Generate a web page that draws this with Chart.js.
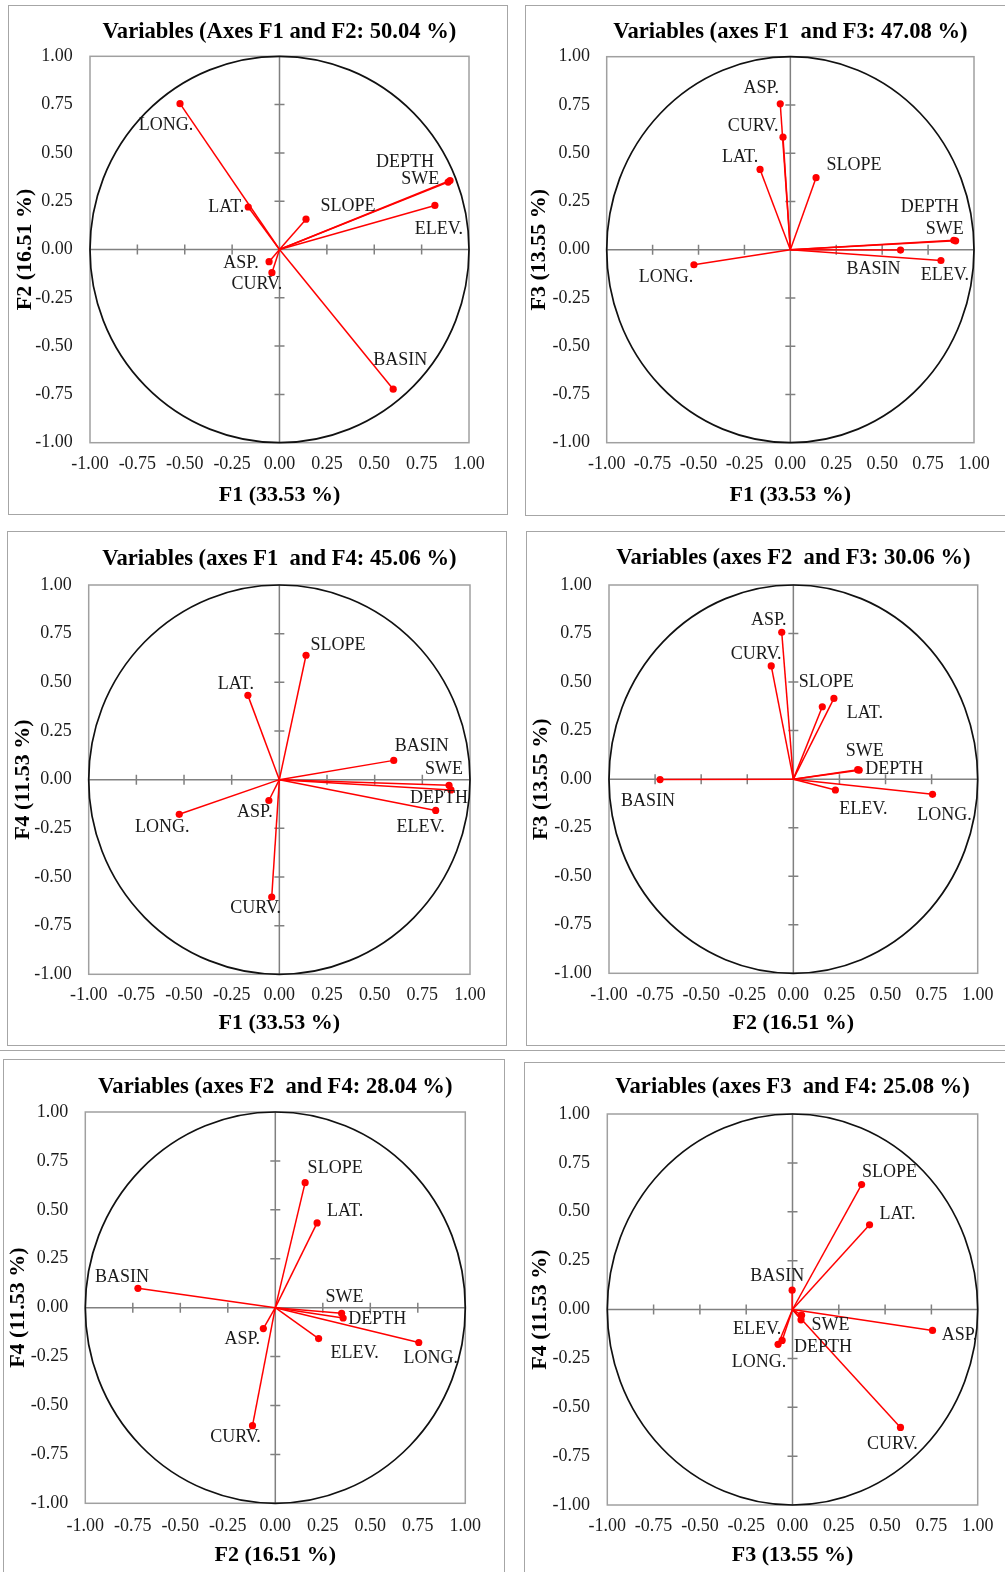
<!DOCTYPE html>
<html>
<head>
<meta charset="utf-8">
<title>Correlation circles F1–F4</title>
<script src="https://cdn.jsdelivr.net/npm/chart.js@4.4.1/dist/chart.umd.min.js"></script>
<style>
  html, body { margin: 0; padding: 0; background: #fff; }
  body { width: 1005px; height: 1572px; position: relative; overflow: hidden; }
  .panel { position: absolute; box-sizing: border-box; border: 1.5px solid #a6a6a6; }
  .rule { position: absolute; left: 0; width: 1005px; height: 0; border-top: 1.5px solid #a6a6a6; }
  canvas { position: absolute; }
</style>
</head>
<body>
<script>
// Variables and their loadings on the first four factors
const variables = ['LONG.', 'LAT.', 'ASP.', 'CURV.', 'SLOPE', 'DEPTH', 'SWE', 'ELEV.', 'BASIN'];
const loadF1 = [-0.525, -0.165, -0.055, -0.040, 0.140, 0.900, 0.890, 0.820, 0.600];
const loadF2 = [0.755, 0.220, -0.063, -0.120, 0.157, 0.357, 0.349, 0.228, -0.723];
const loadF3 = [-0.078, 0.416, 0.756, 0.583, 0.373, 0.046, 0.049, -0.056, -0.002];
const loadF4 = [-0.178, 0.433, -0.107, -0.603, 0.639, -0.053, -0.029, -0.158, 0.099];

// Factor names and the share of variance each one carries (%)
const factorNames = ['F1', 'F2', 'F3', 'F4'];
const explainedPct = [33.53, 16.51, 13.55, 11.53];

// Tick values shared by both axes of every circle
const tickValues = [-1, -0.75, -0.5, -0.25, 0, 0.25, 0.5, 0.75, 1];

const factorSeries = [loadF1, loadF2, loadF3, loadF4];

const SERIF = '"Liberation Serif", "Times New Roman", Times, serif';
const RED = '#ff0000';
const TITLE_SIZE = 22.6;
const AXIS_TITLE_SIZE = 22;
const TICK_SIZE = 18;
const LABEL_SIZE = 18;

// Page layout of the six panels: frame box, plot rectangle, text anchors
// and where each variable name sits relative to its arrow tip.
const panels = [
  { fx: 0, fy: 1, word: 'Axes', gap: ' ',
    box: [8, 5, 508, 515], plot: [90, 56.3, 469, 442.7],
    titleY: 32.3, xTickY: 464, xTitleY: 495, yTitleX: 25, yTickRight: 72.7,
    offsets: { 'LONG.': [-14, 22], 'LAT.': [-22, 0], 'ASP.': [-28, 2], 'CURV.': [-15, 12], 'SLOPE': [42, -13],
               'DEPTH': [-45, -18], 'SWE': [-28, -3], 'ELEV.': [4, 24], 'BASIN': [7, -29] } },
  { fx: 0, fy: 2, word: 'axes', gap: '  ',
    box: [525, 5, 1010, 516], plot: [606.7, 56.7, 974, 442.7],
    titleY: 32.3, xTickY: 464, xTitleY: 495, yTitleX: 539, yTickRight: 590,
    offsets: { 'LONG.': [-28, 13], 'LAT.': [-20, -12], 'ASP.': [-19, -16], 'CURV.': [-30, -11], 'SLOPE': [38, -12],
               'DEPTH': [-26, -34], 'SWE': [-9, -11], 'ELEV.': [4, 15], 'BASIN': [-27, 19] } },
  { fx: 0, fy: 3, word: 'axes', gap: '  ',
    box: [7, 531, 507, 1046], plot: [88.7, 585, 470, 974.3],
    titleY: 559.3, xTickY: 995, xTitleY: 1023, yTitleX: 23, yTickRight: 71.7,
    offsets: { 'LONG.': [-17, 13], 'LAT.': [-12, -11], 'ASP.': [-14, 12], 'CURV.': [-16, 11], 'SLOPE': [32, -10],
               'DEPTH': [-12, 8], 'SWE': [-5, -16], 'ELEV.': [-15, 17], 'BASIN': [28, -14] } },
  { fx: 1, fy: 2, word: 'axes', gap: '  ',
    box: [526, 531, 1010, 1046], plot: [609, 585, 977.7, 973.3],
    titleY: 558.3, xTickY: 995, xTitleY: 1023, yTitleX: 541.7, yTickRight: 591.7,
    offsets: { 'LONG.': [12, 21], 'LAT.': [31, 15], 'ASP.': [-13, -12], 'CURV.': [-15, -12], 'SLOPE': [4, -24],
               'DEPTH': [35, -1], 'SWE': [7, -18], 'ELEV.': [28, 19], 'BASIN': [-12, 22] } },
  { fx: 1, fy: 3, word: 'axes', gap: '  ',
    box: [3, 1059, 505, 1580], plot: [85.3, 1112, 465.3, 1503.3],
    titleY: 1087.3, xTickY: 1526, xTitleY: 1555, yTitleX: 18.3, yTickRight: 68.3,
    offsets: { 'LONG.': [12, 16], 'LAT.': [28, -12], 'ASP.': [-21, 11], 'CURV.': [-17, 12], 'SLOPE': [30, -14],
               'DEPTH': [34, 1], 'SWE': [3, -16], 'ELEV.': [36, 15], 'BASIN': [-16, -11] } },
  { fx: 2, fy: 3, word: 'axes', gap: '  ',
    box: [524, 1062, 1010, 1580], plot: [607.3, 1114, 977.7, 1505],
    titleY: 1087.3, xTickY: 1526, xTitleY: 1555, yTitleX: 540, yTickRight: 590,
    offsets: { 'LONG.': [-19, 18], 'LAT.': [28, -11], 'ASP.': [27, 5], 'CURV.': [-8, 17], 'SLOPE': [28, -12],
               'DEPTH': [22, 27], 'SWE': [29, 10], 'ELEV.': [-25, -11], 'BASIN': [-15, -14] } }
];

// Plot border, zero axes with cross tick marks, and the unit circle
const circleFrame = {
  id: 'circleFrame',
  beforeDatasetsDraw(chart) {
    const { ctx, chartArea: ca } = chart;
    const sx = chart.scales.x, sy = chart.scales.y;
    const x0 = sx.getPixelForValue(0), y0 = sy.getPixelForValue(0);
    ctx.save();
    ctx.strokeStyle = '#a0a0a0';
    ctx.lineWidth = 1.5;
    ctx.strokeRect(ca.left, ca.top, ca.right - ca.left, ca.bottom - ca.top);

    ctx.strokeStyle = '#808080';
    ctx.lineWidth = 1.5;
    ctx.beginPath();
    ctx.moveTo(ca.left, y0); ctx.lineTo(ca.right, y0);
    ctx.moveTo(x0, ca.top); ctx.lineTo(x0, ca.bottom);
    tickValues.forEach(v => {
      if (v === 0 || Math.abs(v) === 1) return;
      const tx = sx.getPixelForValue(v);
      ctx.moveTo(tx, y0 - 5); ctx.lineTo(tx, y0 + 5);
      const ty = sy.getPixelForValue(v);
      ctx.moveTo(x0 - 5, ty); ctx.lineTo(x0 + 5, ty);
    });
    ctx.stroke();

    ctx.strokeStyle = '#111';
    ctx.lineWidth = 1.7;
    ctx.beginPath();
    ctx.ellipse(x0, y0, sx.getPixelForValue(1) - x0, y0 - sy.getPixelForValue(1), 0, 0, Math.PI * 2);
    ctx.stroke();
    ctx.restore();
  }
};

// Variable names next to the arrow tips
const arrowLabels = {
  id: 'arrowLabels',
  afterDatasetsDraw(chart, args, opts) {
    const { ctx } = chart;
    ctx.save();
    ctx.font = LABEL_SIZE + 'px ' + SERIF;
    ctx.fillStyle = '#1a1a1a';
    ctx.textAlign = 'center';
    ctx.textBaseline = 'middle';
    chart.data.datasets.forEach((ds, i) => {
      const tip = chart.getDatasetMeta(i).data[1];
      const off = opts.offsets[ds.label] || [0, 0];
      ctx.fillText(ds.label, tip.x + off[0], tip.y + off[1]);
    });
    ctx.restore();
  }
};

function axisTitle(k) {
  return factorNames[k] + ' (' + explainedPct[k].toFixed(2) + ' %)';
}

function buildPanel(p) {
  const [bx0, by0, bx1, by1] = p.box;
  const [px0, py0, px1, py1] = p.plot;
  const W = bx1 - bx0, H = by1 - by0;

  const frame = document.createElement('div');
  frame.className = 'panel';
  Object.assign(frame.style, { left: bx0 + 'px', top: by0 + 'px', width: W + 'px', height: H + 'px' });
  const canvas = document.createElement('canvas');
  canvas.width = W; canvas.height = H;
  Object.assign(canvas.style, { left: bx0 + 'px', top: by0 + 'px', width: W + 'px', height: H + 'px' });
  document.body.appendChild(frame);
  document.body.appendChild(canvas);

  const leftW = px0 - bx0, topH = py0 - by0, rightW = bx1 - px1, bottomH = by1 - py1;
  const titlePadTop = p.titleY - by0 - TITLE_SIZE / 2;
  const titlePadBottom = topH - titlePadTop - TITLE_SIZE;

  const xs = factorSeries[p.fx], ys = factorSeries[p.fy];
  const datasets = variables.map((name, i) => ({
    label: name,
    data: [{ x: 0, y: 0 }, { x: xs[i], y: ys[i] }],
    showLine: true,
    borderColor: RED,
    backgroundColor: RED,
    borderWidth: 1.5,
    pointRadius: [0, 3.6],
    pointBorderWidth: 0,
    pointHoverRadius: [0, 3.6]
  }));

  const pct = (explainedPct[p.fx] + explainedPct[p.fy]).toFixed(2);
  const titleText = 'Variables (' + p.word + ' ' + factorNames[p.fx] + p.gap + 'and ' +
                    factorNames[p.fy] + ': ' + pct + ' %)';

  const tickFont = { family: SERIF, size: TICK_SIZE, lineHeight: 1 };
  const axisTitleFont = { family: SERIF, size: AXIS_TITLE_SIZE, weight: 'bold', lineHeight: 1 };

  new Chart(canvas, {
    type: 'scatter',
    data: { datasets },
    options: {
      responsive: false,
      animation: false,
      events: [],
      layout: { padding: { left: 0, top: 0, right: rightW, bottom: 0 } },
      plugins: {
        legend: { display: false },
        tooltip: { enabled: false },
        title: {
          display: true,
          fullSize: false,
          text: titleText,
          color: '#000',
          font: { family: SERIF, size: TITLE_SIZE, weight: 'bold', lineHeight: 1 },
          padding: { top: titlePadTop, bottom: titlePadBottom }
        },
        arrowLabels: { offsets: p.offsets }
      },
      scales: {
        x: {
          type: 'linear', position: 'bottom', min: -1, max: 1,
          grid: { display: false, drawTicks: false }, border: { display: false },
          ticks: {
            stepSize: 0.25, autoSkip: false, maxRotation: 0, minRotation: 0,
            padding: p.xTickY - py1 - TICK_SIZE / 2,
            color: '#1b1b1b', font: tickFont,
            callback: v => Number(v).toFixed(2)
          },
          title: {
            display: true, text: axisTitle(p.fx), color: '#000', font: axisTitleFont,
            padding: { top: 0, bottom: by1 - p.xTitleY - AXIS_TITLE_SIZE / 2 }
          },
          afterFit(s) {
            s.height = bottomH;
            s.paddingLeft = 0; s.paddingRight = 0; s.paddingTop = 0; s.paddingBottom = 0;
          }
        },
        y: {
          type: 'linear', position: 'left', min: -1, max: 1,
          grid: { display: false, drawTicks: false }, border: { display: false },
          ticks: {
            stepSize: 0.25, autoSkip: false,
            padding: px0 - p.yTickRight,
            color: '#1b1b1b', font: tickFont,
            callback: v => Number(v).toFixed(2)
          },
          title: {
            display: true, text: axisTitle(p.fy), color: '#000', font: axisTitleFont,
            padding: { top: p.yTitleX - bx0 - AXIS_TITLE_SIZE / 2, bottom: 0 }
          },
          afterFit(s) {
            s.width = leftW;
            s.paddingLeft = 0; s.paddingRight = 0; s.paddingTop = 0; s.paddingBottom = 0;
          }
        }
      }
    },
    plugins: [circleFrame, arrowLabels]
  });
}

const rule = document.createElement('div');
rule.className = 'rule';
rule.style.top = '1050px';
document.body.appendChild(rule);

panels.forEach(buildPanel);
</script>
</body>
</html>
